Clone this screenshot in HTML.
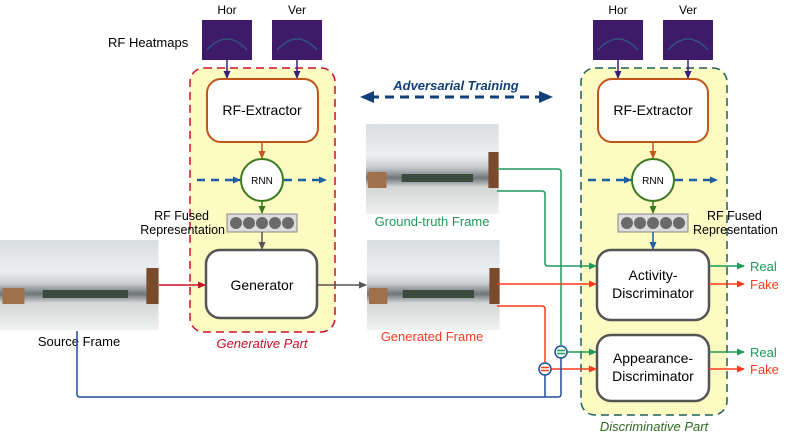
<!DOCTYPE html>
<html><head><meta charset="utf-8"><style>
html,body{margin:0;padding:0;background:#fff;}
svg{display:block;font-family:"Liberation Sans",sans-serif;}
</style></head><body>
<svg width="789" height="440" viewBox="0 0 789 440" xmlns="http://www.w3.org/2000/svg">
<defs>
<marker id="aB" markerWidth="8" markerHeight="8" refX="7" refY="4" orient="auto" markerUnits="userSpaceOnUse"><path d="M0,0.5 L8,4 L0,7.5z" fill="#1d5fa0"/></marker>
<marker id="aO" markerWidth="8" markerHeight="8" refX="7" refY="4" orient="auto" markerUnits="userSpaceOnUse"><path d="M0,0.5 L8,4 L0,7.5z" fill="#c0561b"/></marker>
<marker id="aG" markerWidth="8" markerHeight="8" refX="7" refY="4" orient="auto" markerUnits="userSpaceOnUse"><path d="M0,0.5 L8,4 L0,7.5z" fill="#3a7a1e"/></marker>
<marker id="aK" markerWidth="8" markerHeight="8" refX="7" refY="4" orient="auto" markerUnits="userSpaceOnUse"><path d="M0,0.5 L8,4 L0,7.5z" fill="#555"/></marker>
<marker id="aP" markerWidth="8" markerHeight="8" refX="7" refY="4" orient="auto" markerUnits="userSpaceOnUse"><path d="M0,0.5 L8,4 L0,7.5z" fill="#3a1d7a"/></marker>
<marker id="aR" markerWidth="8" markerHeight="8" refX="7" refY="4" orient="auto" markerUnits="userSpaceOnUse"><path d="M0,0.5 L8,4 L0,7.5z" fill="#c8102e"/></marker>
<marker id="aF" markerWidth="8" markerHeight="8" refX="7" refY="4" orient="auto" markerUnits="userSpaceOnUse"><path d="M0,0.5 L8,4 L0,7.5z" fill="#ff3b1f"/></marker>
<marker id="aT" markerWidth="8" markerHeight="8" refX="7" refY="4" orient="auto" markerUnits="userSpaceOnUse"><path d="M0,0.5 L8,4 L0,7.5z" fill="#1f9a5a"/></marker>
<linearGradient id="ph" x1="0" y1="0" x2="0" y2="1">
<stop offset="0" stop-color="#d8dde0"/><stop offset="0.35" stop-color="#eceff1"/><stop offset="0.48" stop-color="#c9cdd0"/><stop offset="0.6" stop-color="#6f7578"/><stop offset="0.7" stop-color="#d4d6d6"/><stop offset="1" stop-color="#f0f1f1"/></linearGradient>
<g id="photo">
<rect x="0" y="0" width="130" height="90" fill="url(#ph)"/>
<rect x="120" y="28" width="10" height="36" fill="#7a4a2c"/>
<rect x="2" y="48" width="18" height="16" fill="#a0704a"/>
<rect x="35" y="50" width="70" height="8" fill="#3b4a3c"/>
</g>
<g id="hm"><rect width="50" height="40" fill="#3d1a6a"/><path d="M5,30 Q25,8 45,30" stroke="#2a7a8a" stroke-width="1.5" fill="none" opacity="0.6"/></g>
</defs>

<rect x="190" y="68" width="145" height="264" rx="14" fill="#fdfbc2" stroke="#c8102e" stroke-width="1.5" stroke-dasharray="8,5"/>
<rect x="581" y="68" width="146" height="347" rx="14" fill="#fdfbc2" stroke="#1e5f5a" stroke-width="1.5" stroke-dasharray="8,5"/>

<text x="227" y="14" font-size="12" text-anchor="middle">Hor</text>
<text x="297" y="14" font-size="12" text-anchor="middle">Ver</text>
<text x="618" y="14" font-size="12" text-anchor="middle">Hor</text>
<text x="688" y="14" font-size="12" text-anchor="middle">Ver</text>
<use href="#hm" x="202" y="20"/><use href="#hm" x="272" y="20"/>
<use href="#hm" x="593" y="20"/><use href="#hm" x="663" y="20"/>
<text x="108" y="47" font-size="13">RF Heatmaps</text>
<line x1="227" y1="60" x2="227" y2="78" stroke="#3a1d7a" stroke-width="1.5" marker-end="url(#aP)"/>
<line x1="297" y1="60" x2="297" y2="78" stroke="#3a1d7a" stroke-width="1.5" marker-end="url(#aP)"/>
<line x1="618" y1="60" x2="618" y2="78" stroke="#3a1d7a" stroke-width="1.5" marker-end="url(#aP)"/>
<line x1="688" y1="60" x2="688" y2="78" stroke="#3a1d7a" stroke-width="1.5" marker-end="url(#aP)"/>

<rect x="207" y="79" width="111" height="63" rx="14" fill="#fff" stroke="#c0561b" stroke-width="2"/>
<text x="262" y="115" font-size="14" text-anchor="middle">RF-Extractor</text>
<rect x="598" y="79" width="110" height="63" rx="14" fill="#fff" stroke="#c0561b" stroke-width="2"/>
<text x="653" y="115" font-size="14" text-anchor="middle">RF-Extractor</text>
<line x1="262" y1="142" x2="262" y2="158" stroke="#c0561b" stroke-width="1.5" marker-end="url(#aO)"/>
<line x1="653" y1="142" x2="653" y2="158" stroke="#c0561b" stroke-width="1.5" marker-end="url(#aO)"/>

<line x1="197" y1="180" x2="240" y2="180" stroke="#1d5fa0" stroke-width="2.5" stroke-dasharray="8,6" marker-end="url(#aB)"/>
<line x1="284" y1="180" x2="326" y2="180" stroke="#1d5fa0" stroke-width="2.5" stroke-dasharray="8,6" marker-end="url(#aB)"/>
<circle cx="262" cy="180" r="21" fill="#fff" stroke="#3a7a1e" stroke-width="2"/>
<text x="262" y="184" font-size="10" text-anchor="middle">RNN</text>
<line x1="588" y1="180" x2="631" y2="180" stroke="#1d5fa0" stroke-width="2.5" stroke-dasharray="8,6" marker-end="url(#aB)"/>
<line x1="675" y1="180" x2="717" y2="180" stroke="#1d5fa0" stroke-width="2.5" stroke-dasharray="8,6" marker-end="url(#aB)"/>
<circle cx="653" cy="180" r="21" fill="#fff" stroke="#3a7a1e" stroke-width="2"/>
<text x="653" y="184" font-size="10" text-anchor="middle">RNN</text>
<line x1="262" y1="201" x2="262" y2="213" stroke="#3a7a1e" stroke-width="1.5" marker-end="url(#aG)"/>
<line x1="653" y1="201" x2="653" y2="213" stroke="#3a7a1e" stroke-width="1.5" marker-end="url(#aG)"/>

<g fill="#6a6a6a">
<rect x="227" y="214" width="70" height="18" fill="#ddd" stroke="#888"/>
<circle cx="236" cy="223" r="6"/><circle cx="249" cy="223" r="6"/><circle cx="262" cy="223" r="6"/><circle cx="275" cy="223" r="6"/><circle cx="288" cy="223" r="6"/>
<rect x="618" y="214" width="70" height="18" fill="#ddd" stroke="#888"/>
<circle cx="627" cy="223" r="6"/><circle cx="640" cy="223" r="6"/><circle cx="653" cy="223" r="6"/><circle cx="666" cy="223" r="6"/><circle cx="679" cy="223" r="6"/>
</g>
<text x="209" y="220" font-size="12.5" text-anchor="end">RF Fused</text>
<text x="225" y="234" font-size="12.5" text-anchor="end">Representation</text>
<text x="707" y="220" font-size="12.5">RF Fused</text>
<text x="693" y="234" font-size="12.5">Representation</text>
<line x1="262" y1="232" x2="262" y2="249" stroke="#555" stroke-width="1.5" marker-end="url(#aK)"/>
<line x1="653" y1="232" x2="653" y2="249" stroke="#1d5fa0" stroke-width="1.5" marker-end="url(#aB)"/>

<rect x="206" y="250" width="111" height="68" rx="14" fill="#fff" stroke="#555" stroke-width="2.5"/>
<text x="262" y="290" font-size="14" text-anchor="middle">Generator</text>

<use href="#photo" transform="translate(0,240) scale(1.22,1)"/>
<use href="#photo" transform="translate(366,124) scale(1.02,1)"/>
<use href="#photo" transform="translate(367,240) scale(1.02,1)"/>
<text x="79" y="346" font-size="13" text-anchor="middle">Source Frame</text>
<text x="432" y="226" font-size="13" text-anchor="middle" fill="#1f9a5a">Ground-truth Frame</text>
<text x="432" y="341" font-size="13" text-anchor="middle" fill="#ff3b1f">Generated Frame</text>
<text x="262" y="348" font-size="13" font-style="italic" text-anchor="middle" fill="#c8102e">Generative Part</text>
<text x="654" y="431" font-size="13" font-style="italic" text-anchor="middle" fill="#2d6a1a">Discriminative Part</text>

<line x1="159" y1="285" x2="205" y2="285" stroke="#c8102e" stroke-width="1.5" marker-end="url(#aR)"/>
<line x1="317" y1="285" x2="366" y2="285" stroke="#555" stroke-width="1.5" marker-end="url(#aK)"/>

<text x="456" y="90" font-size="13" font-weight="bold" font-style="italic" text-anchor="middle" fill="#123f7a">Adversarial Training</text>
<line x1="370" y1="97" x2="542" y2="97" stroke="#123f7a" stroke-width="3" stroke-dasharray="9,6"/>
<path d="M360,97 L374,91 L374,103z" fill="#123f7a"/>
<path d="M553,97 L539,91 L539,103z" fill="#123f7a"/>

<rect x="597" y="250" width="112" height="70" rx="14" fill="#fff" stroke="#555" stroke-width="2.5"/>
<text x="653" y="280" font-size="14" text-anchor="middle">Activity-</text>
<text x="653" y="298" font-size="14" text-anchor="middle">Discriminator</text>
<rect x="597" y="335" width="112" height="66" rx="14" fill="#fff" stroke="#555" stroke-width="2.5"/>
<text x="653" y="363" font-size="14" text-anchor="middle">Appearance-</text>
<text x="653" y="381" font-size="14" text-anchor="middle">Discriminator</text>

<g fill="none" stroke-width="1.5">
<path d="M497,169 H558 Q561,169 561,172 V345" stroke="#1f9a5a"/>
<path d="M567,352 H596" stroke="#1f9a5a" marker-end="url(#aT)"/>
<path d="M497,191 H542 Q545,191 545,194 V263 Q545,266 548,266 H596" stroke="#1f9a5a" marker-end="url(#aT)"/>
<path d="M497,284 H596" stroke="#ff3b1f" marker-end="url(#aF)"/>
<path d="M497,306 H542 Q545,306 545,309 V362" stroke="#ff3b1f"/>
<path d="M551,369 H596" stroke="#ff3b1f" marker-end="url(#aF)"/>
<path d="M77,331 V394 Q77,397 80,397 H558 Q561,397 561,394 V358" stroke="#1d4f9a"/>
<path d="M545,397 V375" stroke="#1d4f9a"/>
<path d="M709,266 H744" stroke="#1f9a5a" marker-end="url(#aT)"/>
<path d="M709,284 H744" stroke="#ff3b1f" marker-end="url(#aF)"/>
<path d="M709,352 H744" stroke="#1f9a5a" marker-end="url(#aT)"/>
<path d="M709,369 H744" stroke="#ff3b1f" marker-end="url(#aF)"/>
</g>
<circle cx="561" cy="352" r="6" fill="#fff" stroke="#1d4f9a" stroke-width="1.5"/>
<line x1="557" y1="350.5" x2="565" y2="350.5" stroke="#1f9a5a" stroke-width="1.5"/><line x1="557" y1="353.5" x2="565" y2="353.5" stroke="#1f9a5a" stroke-width="1.5"/>
<circle cx="545" cy="369" r="6" fill="#fff" stroke="#1d4f9a" stroke-width="1.5"/>
<line x1="541" y1="367.5" x2="549" y2="367.5" stroke="#ff3b1f" stroke-width="1.5"/><line x1="541" y1="370.5" x2="549" y2="370.5" stroke="#ff3b1f" stroke-width="1.5"/>

<text x="750" y="271" font-size="13" fill="#1f9a5a">Real</text>
<text x="750" y="289" font-size="13" fill="#ff3b1f">Fake</text>
<text x="750" y="357" font-size="13" fill="#1f9a5a">Real</text>
<text x="750" y="374" font-size="13" fill="#ff3b1f">Fake</text>
</svg>
</body></html>
